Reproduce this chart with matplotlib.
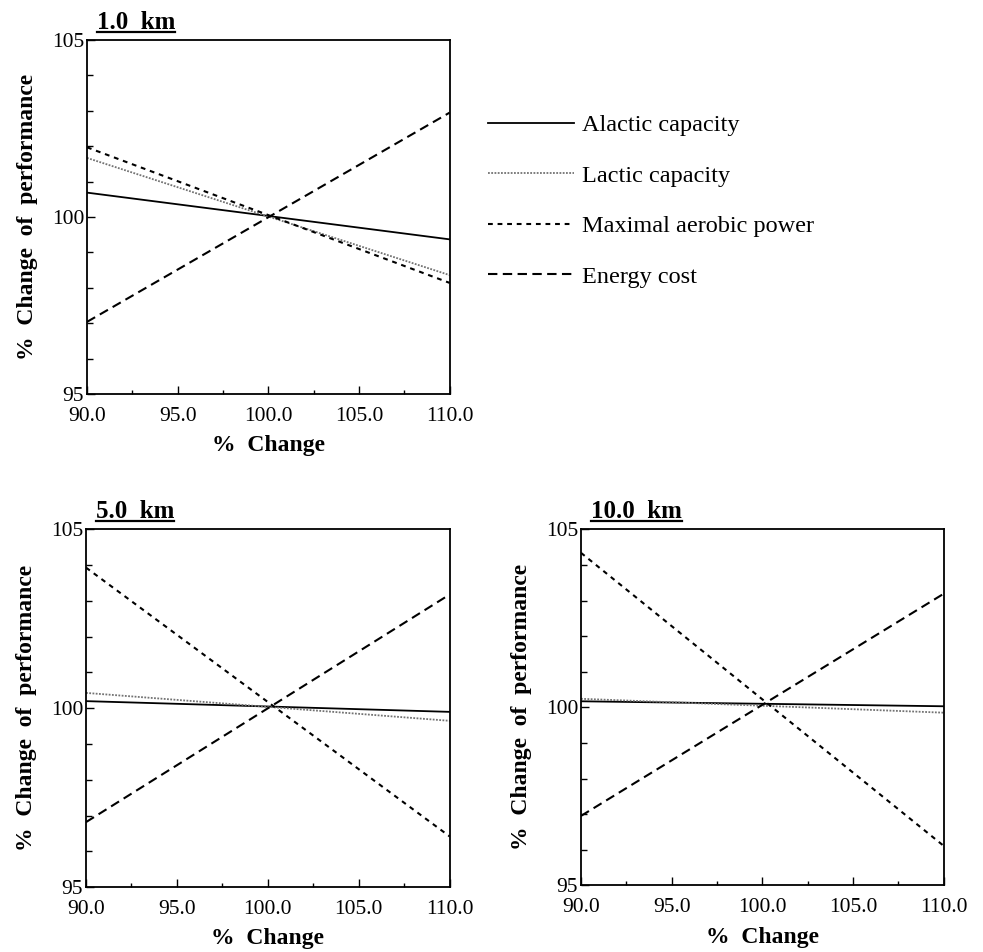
"""
Sensitivity of running performance to changes in the energetic parameters,
for 1.0, 5.0 and 10.0 km.
"""

import matplotlib
matplotlib.use("Agg")
import matplotlib.pyplot as plt
from matplotlib.lines import Line2D
from matplotlib.ticker import MultipleLocator, FixedLocator

plt.rcParams.update({
    "font.family": ["Liberation Serif", "DejaVu Serif"],
    "mathtext.fontset": "stix",
})

# --- Data ---
X_CHANGE = [90.0, 110.0]

TITLES = ["1.0  km", "5.0  km", "10.0  km"]

ALACTIC_1KM = [100.69, 99.37]
LACTIC_1KM = [101.67, 98.36]
AEROBIC_1KM = [101.97, 98.14]
ENERGY_1KM = [97.04, 102.95]

ALACTIC_5KM = [100.20, 99.90]
LACTIC_5KM = [100.43, 99.65]
AEROBIC_5KM = [103.93, 96.42]
ENERGY_5KM = [96.82, 103.18]

ALACTIC_10KM = [100.17, 100.03]
LACTIC_10KM = [100.24, 99.85]
AEROBIC_10KM = [104.34, 96.11]
ENERGY_10KM = [96.95, 103.19]

SERIES_NAMES = ["Alactic capacity", "Lactic capacity",
                "Maximal aerobic power", "Energy cost"]

X_TICKS = [90.0, 95.0, 100.0, 105.0, 110.0]
X_TICK_LABELS = ["90.0", "95.0", "100.0", "105.0", "110.0"]
Y_TICKS = [95, 100, 105]
Y_TICK_LABELS = ["95", "100", "105"]

# --- Styling ---
STYLES = [
    dict(color="black", lw=1.3, linestyle="-"),
    dict(color="0.45", lw=1.3, linestyle=(0, (1, 0.8))),
    dict(color="black", lw=1.5, linestyle=(0, (2.3, 2.3))),
    dict(color="black", lw=1.5, linestyle=(0, (4.5, 2.6))),
]
FS_TICKS = 15.5
FS_LABEL = 17
FS_TITLE = 18
FS_LEGEND = 17.5

# axes rectangles in figure fractions [left, bottom, width, height]
AX_RECTS = [
    [0.0885, 0.586, 0.369, 0.372],
    [0.0875, 0.068, 0.370, 0.376],
    [0.591, 0.070, 0.369, 0.374],
]

fig = plt.figure(figsize=(9.83, 9.52), dpi=100)

panel_data = [
    (ALACTIC_1KM, LACTIC_1KM, AEROBIC_1KM, ENERGY_1KM),
    (ALACTIC_5KM, LACTIC_5KM, AEROBIC_5KM, ENERGY_5KM),
    (ALACTIC_10KM, LACTIC_10KM, AEROBIC_10KM, ENERGY_10KM),
]

axes = []
titles = []
for rect, title, series in zip(AX_RECTS, TITLES, panel_data):
    ax = fig.add_axes(rect)
    for values, style, name in zip(series, STYLES, SERIES_NAMES):
        ax.plot(X_CHANGE, values, label=name, **style)

    ax.set_xlim(90, 110)
    ax.set_ylim(95, 105)
    ax.xaxis.set_major_locator(FixedLocator(X_TICKS))
    ax.set_xticklabels(X_TICK_LABELS)
    ax.xaxis.set_minor_locator(MultipleLocator(2.5))
    ax.yaxis.set_major_locator(FixedLocator(Y_TICKS))
    ax.set_yticklabels(Y_TICK_LABELS)
    ax.yaxis.set_minor_locator(MultipleLocator(1))
    ax.tick_params(which="both", direction="in", top=False, right=False,
                   labelsize=FS_TICKS, width=1.0)
    ax.tick_params(axis="x", which="major", length=6, pad=9)
    ax.tick_params(axis="x", which="minor", length=3)
    ax.tick_params(axis="y", which="major", length=6, pad=2)
    ax.tick_params(axis="y", which="minor", length=4)
    for sp in ax.spines.values():
        sp.set_linewidth(1.3)

    ax.set_xlabel("%  Change", fontsize=FS_LABEL, fontweight="bold", labelpad=7)
    ax.set_ylabel("%  Change  of  performance", fontsize=FS_LABEL,
                  fontweight="bold", labelpad=10)
    t = ax.text(0.027, 1.017, title, transform=ax.transAxes, fontsize=FS_TITLE,
                fontweight="bold", ha="left", va="bottom")
    axes.append(ax)
    titles.append(t)

# legend sits in the empty upper-right space
handles, labels = axes[0].get_legend_handles_labels()
fig.legend(handles, labels, loc="upper left",
           bbox_to_anchor=(0.487, 0.89), frameon=False, fontsize=FS_LEGEND,
           handlelength=3.5, handletextpad=0.35, labelspacing=1.17,
           borderaxespad=0)

# underline the panel titles
fig.canvas.draw()
renderer = fig.canvas.get_renderer()
for t in titles:
    bb = t.get_window_extent(renderer).transformed(fig.transFigure.inverted())
    y = bb.y0 + 0.002
    fig.add_artist(Line2D([bb.x0, bb.x1], [y, y], transform=fig.transFigure,
                          color="black", lw=1.6))

fig.savefig("out.png", dpi=100)
